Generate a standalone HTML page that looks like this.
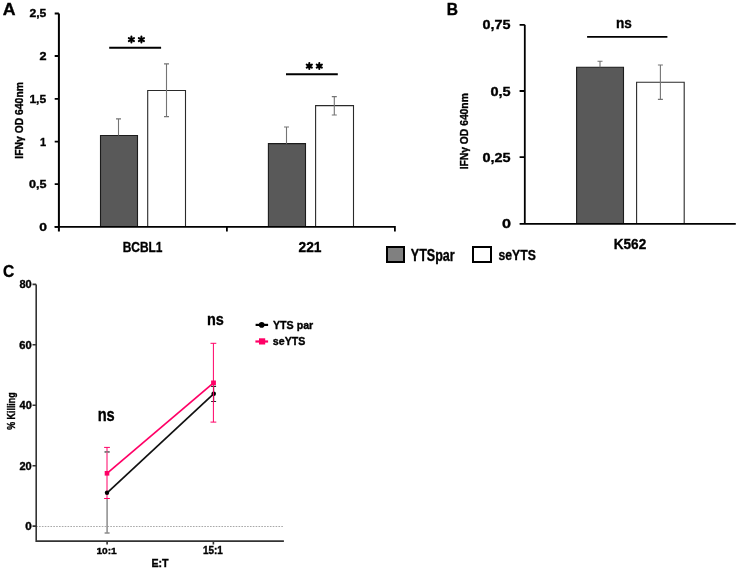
<!DOCTYPE html>
<html><head><meta charset="utf-8"><style>
html,body{margin:0;padding:0;background:#fff;}
svg{display:block;will-change:transform;}
text{font-family:"Liberation Sans", sans-serif;font-weight:bold;fill:#000;stroke:#000;stroke-width:0.35px;}
</style></head><body>
<svg width="739" height="570" viewBox="0 0 739 570">
<rect width="739" height="570" fill="#fff"/>
<rect x="100.5" y="135.5" width="37.0" height="91.4" fill="#595959"/><path d="M100.5,226.9V135.5H137.5V226.9" stroke="#1c1c1c" stroke-width="1.1" fill="none"/>
<rect x="147.7" y="90.5" width="37.80000000000001" height="136.4" fill="#fff"/><path d="M147.7,226.9V90.5H185.5V226.9" stroke="#2a2a2a" stroke-width="1.1" fill="none"/>
<rect x="268.4" y="143.6" width="37.10000000000002" height="83.30000000000001" fill="#595959"/><path d="M268.4,226.9V143.6H305.5V226.9" stroke="#1c1c1c" stroke-width="1.1" fill="none"/>
<rect x="315.6" y="105.6" width="37.89999999999998" height="121.30000000000001" fill="#fff"/><path d="M315.6,226.9V105.6H353.5V226.9" stroke="#2a2a2a" stroke-width="1.1" fill="none"/>
<path d="M118.5,118.9V135.4M116.0,118.9h5" stroke="#747474" stroke-width="1.1" fill="none"/>
<path d="M166.5,63.9V116.6M164.0,63.9h5M164.0,116.6h5" stroke="#747474" stroke-width="1.1" fill="none"/>
<path d="M286.5,127.0V143.8M284.0,127.0h5" stroke="#747474" stroke-width="1.1" fill="none"/>
<path d="M334.3,96.6V115.0M331.8,96.6h5M331.8,115.0h5" stroke="#747474" stroke-width="1.1" fill="none"/>
<path d="M58.9,13.5V231.5" stroke="#000" stroke-width="2" fill="none"/>
<path d="M54.7,226.9H394.9V231.5M226.9,226.9V231.5" stroke="#000" stroke-width="1.8" fill="none"/>
<path d="M54.7,13.5H58.9M54.7,56.0H58.9M54.7,98.9H58.9M54.7,141.6H58.9M54.7,184.2H58.9M54.7,226.9H58.9" stroke="#000" stroke-width="1.8" fill="none"/>
<path d="M109.2,47.7H161.1M286,74.2H337.8" stroke="#000" stroke-width="2" fill="none"/>
<path d="M131.40,36.60L131.40,42.60M128.80,38.10L134.00,41.10M128.80,41.10L134.00,38.10" stroke="#000" stroke-width="2.0" stroke-linecap="round" fill="none"/>
<path d="M141.40,36.60L141.40,42.60M138.80,38.10L144.00,41.10M138.80,41.10L144.00,38.10" stroke="#000" stroke-width="2.0" stroke-linecap="round" fill="none"/>
<path d="M309.30,63.10L309.30,69.10M306.70,64.60L311.90,67.60M306.70,67.60L311.90,64.60" stroke="#000" stroke-width="2.0" stroke-linecap="round" fill="none"/>
<path d="M319.30,63.10L319.30,69.10M316.70,64.60L321.90,67.60M316.70,67.60L321.90,64.60" stroke="#000" stroke-width="2.0" stroke-linecap="round" fill="none"/>
<rect x="387" y="247" width="17" height="15" fill="#808080" stroke="#000" stroke-width="2"/>
<rect x="473" y="247" width="18" height="15" fill="#fff" stroke="#000" stroke-width="2"/>
<rect x="576.6" y="67.2" width="46.89999999999998" height="156.7" fill="#595959"/><path d="M576.6,223.9V67.2H623.5V223.9" stroke="#1c1c1c" stroke-width="1.1" fill="none"/>
<rect x="636.6" y="82.3" width="47.60000000000002" height="141.60000000000002" fill="#fff"/><path d="M636.6,223.9V82.3H684.2V223.9" stroke="#2a2a2a" stroke-width="1.1" fill="none"/>
<path d="M600.0,61.3V67.3M597.5,61.3h5" stroke="#747474" stroke-width="1.1" fill="none"/>
<path d="M660.4,65.0V99.4M657.9,65.0h5M657.9,99.4h5" stroke="#747474" stroke-width="1.1" fill="none"/>
<path d="M524.8,24.8V223.9" stroke="#000" stroke-width="1.8" fill="none"/>
<path d="M519.6,223.9H735.8" stroke="#000" stroke-width="1.8" fill="none"/>
<path d="M519.6,24.8H524.8M519.6,91.0H524.8M519.6,157.2H524.8" stroke="#000" stroke-width="1.8" fill="none"/>
<path d="M587.1,36.9H667.4" stroke="#000" stroke-width="1.8" fill="none"/>
<path d="M36.2,526.5H283.9" stroke="#a8a8a8" stroke-width="1" stroke-dasharray="1.6,1.25" fill="none"/>
<path d="M36.2,284.4V541.1H283.9" stroke="#333" stroke-width="1.6" fill="none"/>
<path d="M32.5,284.4H36.2M32.5,344.8H36.2M32.5,405.3H36.2M32.5,465.7H36.2M32.5,526.1H36.2" stroke="#333" stroke-width="1.6" fill="none"/>
<path d="M107.1,541.1V544.5M213.4,541.1V544.5" stroke="#333" stroke-width="1.6" fill="none"/>
<path d="M107.1,451.9V533.0M104.6,451.9h5M104.6,533.0h5" stroke="#8c8c8c" stroke-width="1.5" fill="none"/>
<path d="M107,447.4V498.5" stroke="#fff" stroke-width="2"/>
<path d="M107.0,447.4V498.5M104.1,447.4h5.8M104.1,498.5h5.8" stroke="#ff0066" stroke-width="1.0" fill="none"/>
<path d="M104.6,451.9h5" stroke="#666" stroke-width="1.2"/>
<path d="M213.6,386.4V401.5M211.1,386.4h5M211.1,401.5h5" stroke="#2a2a2a" stroke-width="1.2" fill="none"/>
<path d="M107.1,492.8L213.6,393.8" stroke="#111" stroke-width="1.7" fill="none"/>
<circle cx="107.0" cy="492.8" r="2.2" fill="#000"/>
<circle cx="213.7" cy="393.8" r="2.3" fill="#000"/>
<path d="M213.4,343.3V422.1M210.5,343.3h5.8M210.5,422.1h5.8" stroke="#ff0066" stroke-width="1.0" fill="none"/>
<path d="M107,473.3L213.5,382.8" stroke="#ff0066" stroke-width="1.7" fill="none"/>
<rect x="104.7" y="471.0" width="4.6" height="4.6" fill="#ff0066"/>
<rect x="211.1" y="380.5" width="4.8" height="4.6" fill="#ff0066"/>
<path d="M255.6,324.9H268.1" stroke="#000" stroke-width="2.2" fill="none"/>
<circle cx="261.7" cy="324.9" r="2.8" fill="#000"/>
<path d="M255.4,341.5H268.1" stroke="#ff0066" stroke-width="2.2" fill="none"/>
<rect x="259" y="338.3" width="6.2" height="6.2" fill="#ff0066"/>
<text transform="translate(2.67,14.90) scale(1.0455,1)" font-size="16.96">A</text>
<text transform="translate(29.43,17.30) scale(1.0526,1)" font-size="11.57">2,5</text>
<text transform="translate(39.52,59.90) scale(1.1654,1)" font-size="10.86">2</text>
<text transform="translate(29.38,102.80) scale(1.0288,1)" font-size="11.74">1,5</text>
<text transform="translate(39.94,145.50) scale(0.9425,1)" font-size="11.74">1</text>
<text transform="translate(29.10,188.00) scale(1.1896,1)" font-size="10.57">0,5</text>
<text transform="translate(39.15,230.70) scale(1.2254,1)" font-size="11.29">0</text>
<text transform="translate(22.70,158.63) rotate(-90) scale(1.0372,1)" font-size="10.00">IFNγ OD 640nm</text>
<text transform="translate(122.66,251.50) scale(0.8620,1)" font-size="13.86">BCBL1</text>
<text transform="translate(298.49,251.80) scale(0.9849,1)" font-size="14.00">221</text>
<text transform="translate(410.75,260.60) scale(0.7996,1)" font-size="15.71">YTSpar</text>
<text transform="translate(498.51,260.20) scale(0.8089,1)" font-size="15.14">seYTS</text>
<text transform="translate(446.71,14.60) scale(0.9950,1)" font-size="15.65">B</text>
<text transform="translate(482.42,29.10) scale(1.0622,1)" font-size="13.57">0,75</text>
<text transform="translate(490.42,95.70) scale(1.2267,1)" font-size="11.86">0,5</text>
<text transform="translate(482.42,161.50) scale(1.1641,1)" font-size="12.43">0,25</text>
<text transform="translate(501.95,228.00) scale(1.2577,1)" font-size="12.86">0</text>
<text transform="translate(467.70,169.32) rotate(-90) scale(1.0317,1)" font-size="10.00">IFNγ OD 640nm</text>
<text transform="translate(616.05,28.10) scale(0.8861,1)" font-size="15.37">ns</text>
<text transform="translate(613.75,248.60) scale(0.9518,1)" font-size="14.29">K562</text>
<text transform="translate(3.08,276.60) scale(0.9377,1)" font-size="16.57">C</text>
<text transform="translate(19.47,287.90) scale(1.1058,1)" font-size="10.00">80</text>
<text transform="translate(19.35,348.50) scale(1.1165,1)" font-size="10.00">60</text>
<text transform="translate(19.58,409.10) scale(1.0952,1)" font-size="10.00">40</text>
<text transform="translate(19.47,469.50) scale(1.1058,1)" font-size="10.00">20</text>
<text transform="translate(25.33,529.60) scale(1.1702,1)" font-size="10.00">0</text>
<text transform="translate(15.30,429.77) rotate(-90) scale(0.8886,1)" font-size="10.00">% Killing</text>
<text transform="translate(96.39,553.90) scale(1.0357,1)" font-size="9.86">10:1</text>
<text transform="translate(202.90,553.90) scale(0.9948,1)" font-size="10.00">15:1</text>
<text transform="translate(151.45,566.90) scale(1.0654,1)" font-size="10.00">E:T</text>
<text transform="translate(97.67,420.60) scale(0.8337,1)" font-size="17.59">ns</text>
<text transform="translate(206.89,324.90) scale(0.8497,1)" font-size="17.04">ns</text>
<text transform="translate(272.99,328.50) scale(1.0092,1)" font-size="10.57">YTS par</text>
<text transform="translate(272.77,344.90) scale(1.0094,1)" font-size="10.57">seYTS</text>
</svg>
</body></html>
